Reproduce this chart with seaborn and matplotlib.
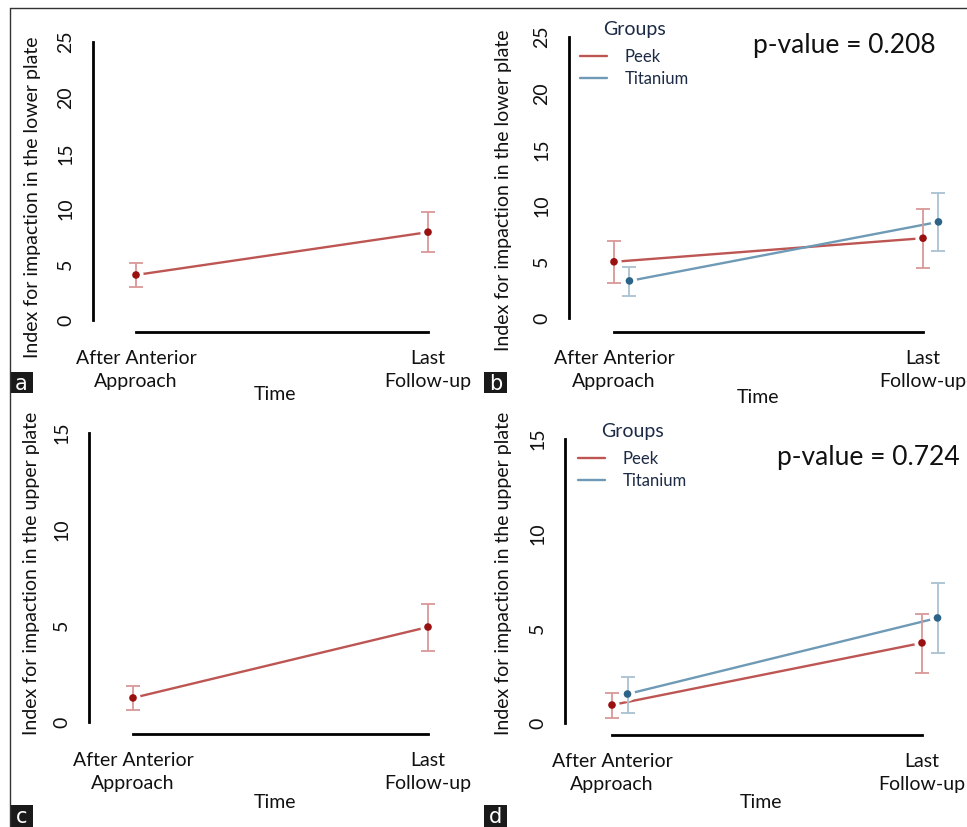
import numpy as np
import pandas as pd
import matplotlib
matplotlib.use("Agg")
import matplotlib.pyplot as plt
from matplotlib.patches import Rectangle
from matplotlib.lines import Line2D
import seaborn as sns

# ---------------- data ----------------
times = ["After Anterior\nApproach", "Last\nFollow-up"]
groups = ["Peek", "Titanium"]

# a: lower plate, overall
a_mean = [4.05, 7.9]
a_lo = [3.0, 6.1]
a_hi = [5.1, 9.7]

# b: lower plate by group
b_peek_mean = [5.0, 7.1]
b_peek_lo = [3.1, 4.45]
b_peek_hi = [6.85, 9.7]
b_ti_mean = [3.3, 8.55]
b_ti_lo = [2.0, 6.0]
b_ti_hi = [4.5, 11.1]

# c: upper plate, overall
c_mean = [1.25, 4.93]
c_lo = [0.62, 3.68]
c_hi = [1.87, 6.12]

# d: upper plate by group
d_peek_mean = [0.95, 4.23]
d_peek_lo = [0.26, 2.64]
d_peek_hi = [1.58, 5.76]
d_ti_mean = [1.53, 5.55]
d_ti_lo = [0.53, 3.7]
d_ti_hi = [2.43, 7.4]

pvalues = ["p-value = 0.208", "p-value = 0.724"]
ylab_lower = "Index for impaction in the lower plate"
ylab_upper = "Index for impaction in the upper plate"

# ---------------- style ----------------
sns.set_style("white")
plt.rcParams["font.family"] = ["Lato", "DejaVu Sans"]

FS = 14
LINE = {"Peek": "#bd5553", "Titanium": "#6e9ab6"}
PT = {"Peek": "#9a1010", "Titanium": "#2c6487"}
ERR = {"Peek": "#d99898", "Titanium": "#a9c2d2"}
DODGE = {"Peek": 0.0, "Titanium": 0.05}

W, H = 967, 827
fig = plt.figure(figsize=(W / 100, H / 100), dpi=100)


def fx(px):
    return px / W


def fy(py):
    return 1 - py / H


def make_axes(yax, xax, cat0, cat1, y0px, ymaxv, ytoppx):
    right = cat1 + 40
    top = ytoppx - 14
    ax = fig.add_axes([fx(yax), fy(xax), (right - yax) / W, (xax - top) / H])
    cpp = cat1 - cat0
    ax.set_xlim(-(cat0 - yax) / cpp, 1 + (right - cat1) / cpp)
    ppu = (y0px - ytoppx) / ymaxv
    ax.set_ylim(-(xax - y0px) / ppu, ymaxv + (ytoppx - top) / ppu)
    ax.set_facecolor("none")
    for s in ["top", "right"]:
        ax.spines[s].set_visible(False)
    for s in ["left", "bottom"]:
        ax.spines[s].set_linewidth(2.0)
        ax.spines[s].set_color("black")
    ax.spines["left"].set_bounds(0, ymaxv)
    ax.spines["bottom"].set_bounds(0, 1)
    ax.set_xticks([0, 1])
    ax.set_xticklabels(times)
    ax.set_yticks(np.arange(0, ymaxv + 1, 5))
    ax.tick_params(axis="y", length=5.5, width=1, color="#777777", pad=8,
                   labelsize=FS, labelrotation=90, labelcolor="#111111")
    for lab in ax.get_yticklabels():
        lab.set_va("center")
    ax.tick_params(axis="x", length=4, width=1, color="#777777", pad=9,
                   labelsize=FS, labelcolor="#111111")
    for lab in ax.get_xticklabels():
        lab.set_linespacing(1.45)
    return ax, (yax, right, top, xax)


def set_labels(ax, box, ylabel, ylx, yly, tx, ty):
    left, right, top, bottom = box
    ax.set_ylabel(ylabel, fontsize=FS, color="#111111")
    ax.yaxis.label.set_va("center")
    ax.yaxis.set_label_coords((ylx - left) / (right - left), (bottom - yly) / (bottom - top))
    ax.set_xlabel("Time", fontsize=FS, color="#111111")
    ax.xaxis.label.set_va("center")
    ax.xaxis.set_label_coords((tx - left) / (right - left), (bottom - ty) / (bottom - top))


def draw_series(ax, df, hue):
    # lines
    if hue:
        sns.lineplot(data=df, x="pos", y="mean", hue="Group", palette=LINE,
                     hue_order=groups, linewidth=1.7, errorbar=None, ax=ax, zorder=2)
    else:
        sns.lineplot(data=df, x="pos", y="mean", color=LINE["Peek"],
                     linewidth=1.7, errorbar=None, ax=ax, zorder=2, legend=False)
    # white halo to open a gap between line and point
    ax.scatter(df["pos"], df["mean"], s=120, color="white", edgecolors="none", zorder=2.5)
    for g, sub in df.groupby("Group"):
        ax.errorbar(sub["pos"], sub["mean"],
                    yerr=[sub["mean"] - sub["lo"], sub["hi"] - sub["mean"]],
                    fmt="none", ecolor=ERR[g], elinewidth=1.3, capsize=5,
                    capthick=1.3, zorder=3)
    sns.scatterplot(data=df, x="pos", y="mean", hue="Group", palette=PT,
                    s=30, edgecolor="none", legend=False, ax=ax, zorder=4)


def frame(groups_data):
    rows = []
    for g, (m, lo, hi) in groups_data.items():
        for i in range(2):
            rows.append({"Group": g, "pos": i + DODGE[g], "mean": m[i], "lo": lo[i], "hi": hi[i]})
    return pd.DataFrame(rows)


def add_legend(ax, x, y):
    leg = ax.get_legend()
    handles = leg.legend_handles
    labels = [t.get_text() for t in leg.get_texts()]
    leg.remove()
    new = ax.legend(handles=handles, labels=labels, title="Groups", loc="upper left",
                    bbox_to_anchor=(fx(x), fy(y)), bbox_transform=fig.transFigure,
                    frameon=False, fontsize=12, title_fontsize=14, handlelength=1.6,
                    handletextpad=1.1, labelspacing=0.35, borderpad=0, borderaxespad=0)
    new._legend_box.sep = 8
    for t in new.get_texts():
        t.set_color("#1c2a45")
    new.get_title().set_color("#1c2a45")


# ---------------- panel a ----------------
ax, box = make_axes(93, 332, 136, 428, 320, 25, 42)
df_a = frame({"Peek": (a_mean, a_lo, a_hi)})
df_a["pos"] = [0, 1]
draw_series(ax, df_a, hue=False)
set_labels(ax, box, ylab_lower, 33, 197, 275, 395)

# ---------------- panel b ----------------
ax, box = make_axes(569, 332, 614, 923, 318, 25, 37)
df_b = frame({"Peek": (b_peek_mean, b_peek_lo, b_peek_hi),
              "Titanium": (b_ti_mean, b_ti_lo, b_ti_hi)})
draw_series(ax, df_b, hue=True)
set_labels(ax, box, ylab_lower, 503, 190, 758, 398)
add_legend(ax, 580, 21)
fig.text(fx(753), fy(45), pvalues[0], fontsize=19, ha="left", va="center", color="#111111")

# ---------------- panel c ----------------
ax, box = make_axes(89, 734, 133, 428, 722, 15, 433)
df_c = frame({"Peek": (c_mean, c_lo, c_hi)})
df_c["pos"] = [0, 1]
draw_series(ax, df_c, hue=False)
set_labels(ax, box, ylab_upper, 32, 573, 275, 803)

# ---------------- panel d ----------------
ax, box = make_axes(565, 735, 612, 922, 723, 15, 439)
df_d = frame({"Peek": (d_peek_mean, d_peek_lo, d_peek_hi),
              "Titanium": (d_ti_mean, d_ti_lo, d_ti_hi)})
draw_series(ax, df_d, hue=True)
set_labels(ax, box, ylab_upper, 503, 573, 761, 803)
add_legend(ax, 578, 423)
fig.text(fx(777), fy(458), pvalues[1], fontsize=19, ha="left", va="center", color="#111111")

# ---------------- frame and panel letters ----------------
fig.add_artist(Line2D([fx(10), fx(967)], [fy(8), fy(8)], color="#333333", lw=1,
                      transform=fig.transFigure))
fig.add_artist(Line2D([fx(10), fx(10)], [fy(8), fy(827)], color="#333333", lw=1,
                      transform=fig.transFigure))
for letter, (x0, y0, x1, y1) in zip("abcd", [(10, 372, 33, 393), (484, 372, 507, 393),
                                             (10, 805, 33, 827), (484, 805, 507, 827)]):
    fig.add_artist(Rectangle((fx(x0), fy(y1)), (x1 - x0) / W, (y1 - y0) / H,
                             transform=fig.transFigure, facecolor="#1a1a1a",
                             edgecolor="none"))
    fig.text(fx((x0 + x1) / 2), fy((y0 + y1) / 2 + 1), letter, color="white",
             fontsize=15, ha="center", va="center", family=["DejaVu Sans"])

fig.savefig("out.png", dpi=100)
